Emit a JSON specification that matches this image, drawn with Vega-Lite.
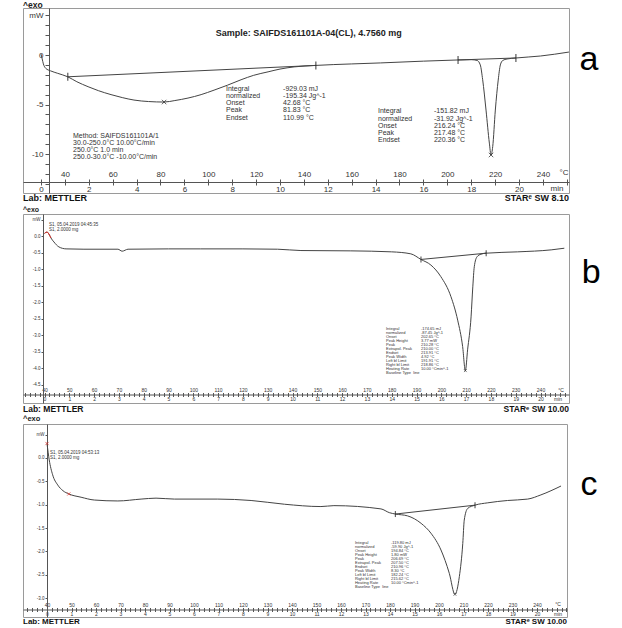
{
"$schema": "https://vega.github.io/schema/vega-lite/v6.json",
"padding": {"left": 22, "top": 0, "right": 0, "bottom": 0},
"bounds": "flush",
"spacing": 21,
"config": {"view": {"stroke": "#9a9a9a", "strokeWidth": 1}, "font": "Liberation Sans", "axis": {"grid": false, "domainColor": "#555", "tickColor": "#555", "labelColor": "#333", "labelFont": "Liberation Sans"}},
"datasets": {
"a_curve": [{"T":30,"mW":0.1},{"T":30.5,"mW":-0.4},{"T":31,"mW":-0.9},{"T":32,"mW":-1.35},{"T":34,"mW":-1.6},{"T":37,"mW":-1.85},{"T":41.2,"mW":-2.2},{"T":45,"mW":-2.7},{"T":49.7,"mW":-3.2},{"T":54,"mW":-3.6},{"T":59.3,"mW":-4.0},{"T":64,"mW":-4.3},{"T":68.9,"mW":-4.55},{"T":75,"mW":-4.7},{"T":81.5,"mW":-4.75},{"T":86,"mW":-4.6},{"T":91.5,"mW":-4.35},{"T":97,"mW":-4.0},{"T":102.4,"mW":-3.55},{"T":108,"mW":-3.05},{"T":113.7,"mW":-2.5},{"T":119,"mW":-2.05},{"T":125,"mW":-1.7},{"T":130,"mW":-1.42},{"T":135.9,"mW":-1.2},{"T":145,"mW":-1.05},{"T":160,"mW":-0.9},{"T":172,"mW":-0.8},{"T":190,"mW":-0.62},{"T":204.5,"mW":-0.5},{"T":210,"mW":-0.47},{"T":212.5,"mW":-0.55},{"T":213.8,"mW":-1.0},{"T":214.8,"mW":-2.5},{"T":216.2,"mW":-5.56},{"T":217.6,"mW":-8.9},{"T":218.3,"mW":-10.1},{"T":219,"mW":-9.26},{"T":220.1,"mW":-5.56},{"T":221.3,"mW":-2.53},{"T":222.2,"mW":-1.0},{"T":223.2,"mW":-0.55},{"T":225,"mW":-0.4},{"T":228.7,"mW":-0.3},{"T":239,"mW":-0.1},{"T":250.9,"mW":0.3}],
"a_base": [{"seg":1,"T":41.2,"mW":-2.2},{"seg":1,"T":145,"mW":-1.05},{"seg":2,"T":204.5,"mW":-0.5},{"seg":2,"T":228.7,"mW":-0.3}],
"a_peaks": [{"T":81.5,"mW":-4.75},{"T":218.3,"mW":-10.1}],
"b_curve": [{"T":40,"mW":0.08},{"T":41,"mW":0.12},{"T":42,"mW":0.03},{"T":42.6,"mW":-0.06},{"T":43.8,"mW":-0.18},{"T":45.8,"mW":-0.33},{"T":48.7,"mW":-0.39},{"T":55.9,"mW":-0.4},{"T":69.6,"mW":-0.4},{"T":71.3,"mW":-0.46},{"T":73.7,"mW":-0.4},{"T":90,"mW":-0.39},{"T":103,"mW":-0.39},{"T":120,"mW":-0.39},{"T":134,"mW":-0.4},{"T":143.4,"mW":-0.44},{"T":163.5,"mW":-0.45},{"T":180,"mW":-0.48},{"T":187.7,"mW":-0.54},{"T":191.8,"mW":-0.71},{"T":195.8,"mW":-0.88},{"T":199.8,"mW":-1.23},{"T":203.9,"mW":-1.84},{"T":206.6,"mW":-2.55},{"T":208.6,"mW":-3.35},{"T":209.7,"mW":-4.08},{"T":210.6,"mW":-3.45},{"T":212,"mW":-2.45},{"T":212.7,"mW":-1.54},{"T":213.3,"mW":-0.93},{"T":214.4,"mW":-0.63},{"T":216,"mW":-0.55},{"T":218.1,"mW":-0.52},{"T":230.8,"mW":-0.48},{"T":244.3,"mW":-0.42},{"T":249.6,"mW":-0.37}],
"b_red": [{"T":40,"mW":0.08},{"T":41,"mW":0.12},{"T":42,"mW":0.03},{"T":42.6,"mW":-0.06}],
"b_base": [{"T":191.8,"mW":-0.71},{"T":218.1,"mW":-0.52}],
"b_peaks": [{"T":209.7,"mW":-4.08}],
"c_curve": [{"T":40,"mW":0.31},{"T":40.9,"mW":-0.04},{"T":42.3,"mW":-0.36},{"T":44.4,"mW":-0.58},{"T":46.5,"mW":-0.7},{"T":48.9,"mW":-0.77},{"T":53.9,"mW":-0.84},{"T":59.3,"mW":-0.9},{"T":68.9,"mW":-0.92},{"T":78.4,"mW":-0.88},{"T":84.5,"mW":-0.86},{"T":92,"mW":-0.88},{"T":109.7,"mW":-0.88},{"T":123.3,"mW":-0.91},{"T":136.9,"mW":-0.99},{"T":151.8,"mW":-1.04},{"T":157.1,"mW":-1.02},{"T":176.3,"mW":-1.09},{"T":179.7,"mW":-1.17},{"T":182.2,"mW":-1.2},{"T":187.2,"mW":-1.24},{"T":192.7,"mW":-1.4},{"T":196.7,"mW":-1.61},{"T":200.8,"mW":-1.97},{"T":204.2,"mW":-2.47},{"T":206.5,"mW":-2.92},{"T":208.3,"mW":-2.54},{"T":209.7,"mW":-1.83},{"T":210.3,"mW":-1.33},{"T":211.7,"mW":-1.08},{"T":214.7,"mW":-1.01},{"T":219.9,"mW":-0.96},{"T":228,"mW":-0.91},{"T":236.2,"mW":-0.88},{"T":241.6,"mW":-0.79},{"T":249.8,"mW":-0.6}],
"c_red": [{"T":40,"mW":0.31},{"T":48.9,"mW":-0.77}],
"c_base": [{"T":182.2,"mW":-1.2},{"T":214.7,"mW":-1.01}],
"c_peaks": [{"T":206.5,"mW":-2.92}],
"one": [{}]
},
"vconcat": [
{
"width": 546, "height": 185,
"resolve": {"axis": {"x": "independent", "y": "independent"}},
"layer": [
{"data": {"name": "a_curve"}, "mark": {"type": "line", "color": "#444", "strokeWidth": 1, "interpolate": "monotone"},
 "encoding": {
  "x": {"field": "T", "type": "quantitative", "scale": {"domain": [22.47, 250.92], "nice": false, "zero": false},
   "axis": {"orient": "bottom", "offset": -11, "title": null, "values": [30,40,50,60,70,80,90,100,110,120,130,140,150,160,170,180,190,200,210,220,230,240,250], "labelExpr": "datum.value % 20 == 0 && datum.value >= 40 && datum.value <= 240 ? '' + datum.value : ''", "tickSize": 3, "labelBaseline": "alphabetic", "labelPadding": -8.5, "labelFontSize": 8, "labelOverlap": false, "labelFlush": false}},
  "y": {"field": "mW", "type": "quantitative", "scale": {"domain": [-13.94, 4.75], "nice": false, "zero": false},
   "axis": {"orient": "left", "offset": -26, "title": null, "values": [-13,-12,-11,-10,-9,-8,-7,-6,-5,-4,-3,-2,-1,0,1,2,3,4], "labelExpr": "datum.value == 4 ? 'mW' : (datum.value % 5 == 0 ? '' + datum.value : '')", "tickSize": 4, "labelPadding": 2, "labelFontSize": 8, "labelOverlap": false, "labelFlush": false}}
 }},
{"data": {"name": "a_base"}, "mark": {"type": "line", "color": "#444", "strokeWidth": 1},
 "encoding": {
  "x": {"field": "T", "type": "quantitative", "axis": {"orient": "bottom", "offset": -11, "title": null, "values": [30,40,50,60,70,80,90,100,110,120,130,140,150,160,170,180,190,200,210,220,230,240,250], "labelExpr": "(datum.value - 30) % 20 == 0 && datum.value <= 230 ? '' + (datum.value - 30) / 10 : ''", "ticks": true, "tickSize": -3, "domain": false, "labelBaseline": "top", "labelPadding": 6, "labelFontSize": 8, "labelOverlap": false, "labelFlush": false}},
  "y": {"field": "mW", "type": "quantitative", "axis": null},
  "detail": {"field": "seg"}
 }},
{"data": {"name": "a_base"}, "mark": {"type": "tick", "orient": "vertical", "size": 8, "thickness": 1.3, "color": "#222"},
 "encoding": {"x": {"field": "T", "type": "quantitative", "axis": null}, "y": {"field": "mW", "type": "quantitative", "axis": null}}},
{"data": {"name": "a_peaks"}, "mark": {"type": "point", "shape": "M-1,-1L1,1M-1,1L1,-1", "filled": false, "size": 20, "strokeWidth": 1, "color": "#222"},
 "encoding": {"x": {"field": "T", "type": "quantitative", "axis": null}, "y": {"field": "mW", "type": "quantitative", "axis": null}}},
{"data": {"name": "one"}, "mark": {"type": "text", "text": "Sample: SAIFDS161101A-04(CL), 4.7560 mg", "fontWeight": "bold", "fontSize": 9, "align": "center", "baseline": "middle", "color": "#222"},
 "encoding": {"x": {"datum": 142, "axis": null}, "y": {"datum": 2.2, "axis": null}}},
{"data": {"name": "one"}, "mark": {"type": "text", "text": ["Integral", "\u00a0\u00a0normalized", "Onset", "Peak", "Endset"], "fontSize": 7, "lineHeight": 7.2, "align": "left", "baseline": "top", "color": "#333"},
 "encoding": {"x": {"datum": 107.4, "axis": null}, "y": {"datum": -3.0, "axis": null}}},
{"data": {"name": "one"}, "mark": {"type": "text", "text": ["-929.03 mJ", "-195.34 Jg^-1", "42.68 °C", "81.83 °C", "110.99 °C"], "fontSize": 7, "lineHeight": 7.2, "align": "left", "baseline": "top", "color": "#333"},
 "encoding": {"x": {"datum": 131.3, "axis": null}, "y": {"datum": -3.0, "axis": null}}},
{"data": {"name": "one"}, "mark": {"type": "text", "text": ["Integral", "\u00a0\u00a0normalized", "Onset", "Peak", "Endset"], "fontSize": 7, "lineHeight": 7.2, "align": "left", "baseline": "top", "color": "#333"},
 "encoding": {"x": {"datum": 171, "axis": null}, "y": {"datum": -5.3, "axis": null}}},
{"data": {"name": "one"}, "mark": {"type": "text", "text": ["-151.82 mJ", "-31.92 Jg^-1", "216.24 °C", "217.48 °C", "220.36 °C"], "fontSize": 7, "lineHeight": 7.2, "align": "left", "baseline": "top", "color": "#333"},
 "encoding": {"x": {"datum": 194.4, "axis": null}, "y": {"datum": -5.3, "axis": null}}},
{"data": {"name": "one"}, "mark": {"type": "text", "text": ["Method: SAIFDS161101A/1", "\u00a0\u00a030.0-250.0°C 10.00°C/min", "\u00a0\u00a0250.0°C 1.0 min", "\u00a0\u00a0250.0-30.0°C -10.00°C/min"], "fontSize": 7, "lineHeight": 7.2, "align": "left", "baseline": "top", "color": "#333"},
 "encoding": {"x": {"datum": 43.4, "axis": null}, "y": {"datum": -7.75, "axis": null}}},
{"data": {"name": "one"}, "mark": {"type": "text", "text": "°C", "fontSize": 8, "align": "center", "baseline": "middle", "color": "#333"},
 "encoding": {"x": {"datum": 248.8, "axis": null}, "y": {"datum": -11.92, "axis": null}}},
{"data": {"name": "one"}, "mark": {"type": "text", "text": "min", "fontSize": 8, "align": "center", "baseline": "middle", "color": "#333"},
 "encoding": {"x": {"datum": 245.9, "axis": null}, "y": {"datum": -13.54, "axis": null}}},
{"data": {"name": "one"}, "mark": {"type": "text", "text": "^exo", "fontSize": 8.5, "fontWeight": "bold", "align": "left", "baseline": "bottom", "dy": 1.5, "color": "#222"},
 "encoding": {"x": {"datum": 22.47, "axis": null}, "y": {"datum": 4.75, "axis": null}}},
{"data": {"name": "one"}, "mark": {"type": "text", "text": "Lab: METTLER", "fontSize": 9, "fontWeight": "bold", "align": "left", "baseline": "top", "dy": 1, "color": "#111"},
 "encoding": {"x": {"datum": 22.47, "axis": null}, "y": {"datum": -13.94, "axis": null}}},
{"data": {"name": "one"}, "mark": {"type": "text", "text": "STARᵉ SW 8.10", "fontSize": 9, "fontWeight": "bold", "align": "right", "baseline": "top", "dy": 1, "color": "#111"},
 "encoding": {"x": {"datum": 250.92, "axis": null}, "y": {"datum": -13.94, "axis": null}}},
{"data": {"name": "one"}, "mark": {"type": "text", "text": "a", "fontSize": 34, "align": "center", "baseline": "alphabetic", "color": "#000"},
 "encoding": {"x": {"datum": 259.3, "axis": null}, "y": {"datum": -1.52, "axis": null}}}
]
},
{
"width": 546, "height": 189,
"resolve": {"axis": {"x": "independent", "y": "independent"}},
"layer": [
{"data": {"name": "b_curve"}, "mark": {"type": "line", "color": "#444", "strokeWidth": 1, "interpolate": "monotone"},
 "encoding": {
  "x": {"field": "T", "type": "quantitative", "scale": {"domain": [31.33, 251.49], "nice": false, "zero": false},
   "axis": {"orient": "bottom", "offset": -8.5, "title": null, "values": [32,34,36,38,40,42,44,46,48,50,52,54,56,58,60,62,64,66,68,70,72,74,76,78,80,82,84,86,88,90,92,94,96,98,100,102,104,106,108,110,112,114,116,118,120,122,124,126,128,130,132,134,136,138,140,142,144,146,148,150,152,154,156,158,160,162,164,166,168,170,172,174,176,178,180,182,184,186,188,190,192,194,196,198,200,202,204,206,208,210,212,214,216,218,220,222,224,226,228,230,232,234,236,238,240,242,244,246,248,250], "labelExpr": "datum.value % 10 == 0 && datum.value >= 40 && datum.value <= 240 ? '' + datum.value : ''", "tickSize": 2, "labelBaseline": "alphabetic", "labelPadding": -4.7, "labelFontSize": 5, "labelOverlap": false, "labelFlush": false}},
  "y": {"field": "mW", "type": "quantitative", "scale": {"domain": [-5.06, 0.667], "nice": false, "zero": false},
   "axis": {"orient": "left", "offset": -20, "title": null, "values": [0.5,0,-0.5,-1,-1.5,-2,-2.5,-3,-3.5,-4,-4.5], "labelExpr": "datum.value == 0.5 ? 'mW' : (datum.value < 0 ? '-' : '') + format(abs(datum.value), '.1f')", "tickSize": 2, "labelPadding": 1, "labelFontSize": 4.5, "labelOverlap": false, "labelFlush": false}}
 }},
{"data": {"name": "b_base"}, "mark": {"type": "line", "color": "#444", "strokeWidth": 1},
 "encoding": {
  "x": {"field": "T", "type": "quantitative", "axis": {"orient": "bottom", "offset": -8.5, "title": null, "values": [32,34,36,38,40,42,44,46,48,50,52,54,56,58,60,62,64,66,68,70,72,74,76,78,80,82,84,86,88,90,92,94,96,98,100,102,104,106,108,110,112,114,116,118,120,122,124,126,128,130,132,134,136,138,140,142,144,146,148,150,152,154,156,158,160,162,164,166,168,170,172,174,176,178,180,182,184,186,188,190,192,194,196,198,200,202,204,206,208,210,212,214,216,218,220,222,224,226,228,230,232,234,236,238,240,242,244,246,248,250], "labelExpr": "datum.value % 10 == 0 && datum.value >= 40 && datum.value <= 240 ? '' + (datum.value - 40) / 10 : ''", "ticks": true, "tickSize": -2, "domain": false, "labelBaseline": "top", "labelPadding": 4.3, "labelFontSize": 5, "labelOverlap": false, "labelFlush": false}},
  "y": {"field": "mW", "type": "quantitative", "axis": null}
 }},
{"data": {"name": "b_red"}, "mark": {"type": "line", "color": "#e0302a", "strokeWidth": 1, "interpolate": "monotone"},
 "encoding": {"x": {"field": "T", "type": "quantitative", "axis": null}, "y": {"field": "mW", "type": "quantitative", "axis": null}}},
{"data": {"name": "b_base"}, "mark": {"type": "tick", "orient": "vertical", "size": 6, "thickness": 1.2, "color": "#222"},
 "encoding": {"x": {"field": "T", "type": "quantitative", "axis": null}, "y": {"field": "mW", "type": "quantitative", "axis": null}}},
{"data": {"name": "b_peaks"}, "mark": {"type": "point", "shape": "M-1,-1L1,1M-1,1L1,-1", "filled": false, "size": 8, "strokeWidth": 0.8, "color": "#222"},
 "encoding": {"x": {"field": "T", "type": "quantitative", "axis": null}, "y": {"field": "mW", "type": "quantitative", "axis": null}}},
{"data": {"name": "one"}, "mark": {"type": "text", "text": ["S1, 05.04.2019 04:45:35", "S1, 2.0000 mg"], "fontSize": 4.5, "lineHeight": 4.8, "align": "left", "baseline": "top", "color": "#333"},
 "encoding": {"x": {"datum": 41.8, "axis": null}, "y": {"datum": 0.42, "axis": null}}},
{"data": {"name": "one"}, "mark": {"type": "text", "text": ["Integral", "\u00a0\u00a0normalized", "Onset", "Peak Height", "Peak", "Extrapol. Peak", "Endset", "Peak Width", "Left bl Limit", "Right bl Limit", "Heating Rate", "Baseline Type\u00a0\u00a0line"], "fontSize": 4, "lineHeight": 4, "align": "left", "baseline": "top", "color": "#333"},
 "encoding": {"x": {"datum": 177.7, "axis": null}, "y": {"datum": -2.76, "axis": null}}},
{"data": {"name": "one"}, "mark": {"type": "text", "text": ["-174.65 mJ", "-87.45 Jg^-1", "202.65 °C", "3.77 mW", "210.28 °C", "210.00 °C", "213.91 °C", "4.92 °C", "191.91 °C", "218.86 °C", "10.00 °Cmin^-1"], "fontSize": 4, "lineHeight": 4, "align": "left", "baseline": "top", "color": "#333"},
 "encoding": {"x": {"datum": 191.8, "axis": null}, "y": {"datum": -2.76, "axis": null}}},
{"data": {"name": "one"}, "mark": {"type": "text", "text": "°C", "fontSize": 5, "align": "center", "baseline": "middle", "color": "#333"},
 "encoding": {"x": {"datum": 248.3, "axis": null}, "y": {"datum": -4.67, "axis": null}}},
{"data": {"name": "one"}, "mark": {"type": "text", "text": "min", "fontSize": 5, "align": "center", "baseline": "middle", "color": "#333"},
 "encoding": {"x": {"datum": 247.1, "axis": null}, "y": {"datum": -4.95, "axis": null}}},
{"data": {"name": "one"}, "mark": {"type": "text", "text": "^exo", "fontSize": 7, "fontWeight": "bold", "align": "left", "baseline": "bottom", "dy": -1, "color": "#222"},
 "encoding": {"x": {"datum": 31.33, "axis": null}, "y": {"datum": 0.667, "axis": null}}},
{"data": {"name": "one"}, "mark": {"type": "text", "text": "Lab: METTLER", "fontSize": 8.5, "fontWeight": "bold", "align": "left", "baseline": "top", "dy": 1.5, "color": "#111"},
 "encoding": {"x": {"datum": 31.33, "axis": null}, "y": {"datum": -5.06, "axis": null}}},
{"data": {"name": "one"}, "mark": {"type": "text", "text": "STARᵉ SW 10.00", "fontSize": 8.5, "fontWeight": "bold", "align": "right", "baseline": "top", "dy": 1.5, "color": "#111"},
 "encoding": {"x": {"datum": 251.49, "axis": null}, "y": {"datum": -5.06, "axis": null}}},
{"data": {"name": "one"}, "mark": {"type": "text", "text": "b", "fontSize": 34, "align": "center", "baseline": "alphabetic", "color": "#000"},
 "encoding": {"x": {"datum": 260.4, "axis": null}, "y": {"datum": -1.42, "axis": null}}}
]
},
{
"width": 544, "height": 193,
"resolve": {"axis": {"x": "independent", "y": "independent"}},
"layer": [
{"data": {"name": "c_curve"}, "mark": {"type": "line", "color": "#444", "strokeWidth": 1, "interpolate": "monotone"},
 "encoding": {
  "x": {"field": "T", "type": "quantitative", "scale": {"domain": [30.2, 252.24], "nice": false, "zero": false},
   "axis": {"orient": "bottom", "offset": -7.5, "title": null, "values": [32,34,36,38,40,42,44,46,48,50,52,54,56,58,60,62,64,66,68,70,72,74,76,78,80,82,84,86,88,90,92,94,96,98,100,102,104,106,108,110,112,114,116,118,120,122,124,126,128,130,132,134,136,138,140,142,144,146,148,150,152,154,156,158,160,162,164,166,168,170,172,174,176,178,180,182,184,186,188,190,192,194,196,198,200,202,204,206,208,210,212,214,216,218,220,222,224,226,228,230,232,234,236,238,240,242,244,246,248,250,252], "labelExpr": "datum.value % 10 == 0 && datum.value >= 40 && datum.value <= 240 ? '' + datum.value : ''", "tickSize": 2, "labelBaseline": "alphabetic", "labelPadding": -5.4, "labelFontSize": 5, "labelOverlap": false, "labelFlush": false}},
  "y": {"field": "mW", "type": "quantitative", "scale": {"domain": [-3.405, 0.728], "nice": false, "zero": false},
   "axis": {"orient": "left", "offset": -24, "title": null, "values": [0.5,0,-0.5,-1,-1.5,-2,-2.5,-3], "labelExpr": "datum.value == 0.5 ? 'mW' : (datum.value < 0 ? '-' : '') + format(abs(datum.value), '.1f')", "tickSize": 2, "labelPadding": 1, "labelFontSize": 4.5, "labelOverlap": false, "labelFlush": false}}
 }},
{"data": {"name": "c_base"}, "mark": {"type": "line", "color": "#444", "strokeWidth": 1},
 "encoding": {
  "x": {"field": "T", "type": "quantitative", "axis": {"orient": "bottom", "offset": -7.5, "title": null, "values": [32,34,36,38,40,42,44,46,48,50,52,54,56,58,60,62,64,66,68,70,72,74,76,78,80,82,84,86,88,90,92,94,96,98,100,102,104,106,108,110,112,114,116,118,120,122,124,126,128,130,132,134,136,138,140,142,144,146,148,150,152,154,156,158,160,162,164,166,168,170,172,174,176,178,180,182,184,186,188,190,192,194,196,198,200,202,204,206,208,210,212,214,216,218,220,222,224,226,228,230,232,234,236,238,240,242,244,246,248,250,252], "labelExpr": "datum.value % 10 == 0 && datum.value >= 40 && datum.value <= 240 ? '' + (datum.value - 40) / 10 : ''", "ticks": true, "tickSize": -2, "domain": false, "labelBaseline": "top", "labelPadding": 3.8, "labelFontSize": 5, "labelOverlap": false, "labelFlush": false}},
  "y": {"field": "mW", "type": "quantitative", "axis": null}
 }},
{"data": {"name": "c_red"}, "mark": {"type": "point", "shape": "M-1,-1L1,1M-1,1L1,-1", "filled": false, "size": 10, "strokeWidth": 1, "color": "#e0302a"},
 "encoding": {"x": {"field": "T", "type": "quantitative", "axis": null}, "y": {"field": "mW", "type": "quantitative", "axis": null}}},
{"data": {"name": "c_base"}, "mark": {"type": "tick", "orient": "vertical", "size": 6, "thickness": 1.2, "color": "#222"},
 "encoding": {"x": {"field": "T", "type": "quantitative", "axis": null}, "y": {"field": "mW", "type": "quantitative", "axis": null}}},
{"data": {"name": "c_peaks"}, "mark": {"type": "point", "shape": "M-1,-1L1,1M-1,1L1,-1", "filled": false, "size": 8, "strokeWidth": 0.8, "color": "#222"},
 "encoding": {"x": {"field": "T", "type": "quantitative", "axis": null}, "y": {"field": "mW", "type": "quantitative", "axis": null}}},
{"data": {"name": "one"}, "mark": {"type": "text", "text": ["S1, 05.04.2019 04:53:13", "S1, 2.0000 mg"], "fontSize": 4.5, "lineHeight": 4.8, "align": "left", "baseline": "top", "color": "#333"},
 "encoding": {"x": {"datum": 41.2, "axis": null}, "y": {"datum": 0.17, "axis": null}}},
{"data": {"name": "one"}, "mark": {"type": "text", "text": ["Integral", "\u00a0\u00a0normalized", "Onset", "Peak Height", "Peak", "Extrapol. Peak", "Endset", "Peak Width", "Left bl Limit", "Right bl Limit", "Heating Rate", "Baseline Type\u00a0\u00a0line"], "fontSize": 4, "lineHeight": 4, "align": "left", "baseline": "top", "color": "#333"},
 "encoding": {"x": {"datum": 165.7, "axis": null}, "y": {"datum": -1.78, "axis": null}}},
{"data": {"name": "one"}, "mark": {"type": "text", "text": ["-119.80 mJ", "-59.90 Jg^-1", "194.84 °C", "1.80 mW", "206.69 °C", "207.50 °C", "210.96 °C", "8.30 °C", "182.24 °C", "215.62 °C", "10.00 °Cmin^-1"], "fontSize": 4, "lineHeight": 4, "align": "left", "baseline": "top", "color": "#333"},
 "encoding": {"x": {"datum": 180.4, "axis": null}, "y": {"datum": -1.78, "axis": null}}},
{"data": {"name": "one"}, "mark": {"type": "text", "text": "°C", "fontSize": 5, "align": "center", "baseline": "middle", "color": "#333"},
 "encoding": {"x": {"datum": 248.6, "axis": null}, "y": {"datum": -3.13, "axis": null}}},
{"data": {"name": "one"}, "mark": {"type": "text", "text": "min", "fontSize": 5, "align": "center", "baseline": "middle", "color": "#333"},
 "encoding": {"x": {"datum": 248.6, "axis": null}, "y": {"datum": -3.34, "axis": null}}},
{"data": {"name": "one"}, "mark": {"type": "text", "text": "^exo", "fontSize": 7.5, "fontWeight": "bold", "align": "left", "baseline": "bottom", "dy": -1, "color": "#222"},
 "encoding": {"x": {"datum": 30.2, "axis": null}, "y": {"datum": 0.728, "axis": null}}},
{"data": {"name": "one"}, "mark": {"type": "text", "text": "Lab: METTLER", "fontSize": 8, "fontWeight": "bold", "align": "left", "baseline": "top", "dy": 0.5, "color": "#111"},
 "encoding": {"x": {"datum": 30.2, "axis": null}, "y": {"datum": -3.405, "axis": null}}},
{"data": {"name": "one"}, "mark": {"type": "text", "text": "STARᵉ SW 10.00", "fontSize": 8, "fontWeight": "bold", "align": "right", "baseline": "top", "dy": 0.5, "color": "#111"},
 "encoding": {"x": {"datum": 252.24, "axis": null}, "y": {"datum": -3.405, "axis": null}}},
{"data": {"name": "one"}, "mark": {"type": "text", "text": "c", "fontSize": 34, "align": "center", "baseline": "alphabetic", "color": "#000"},
 "encoding": {"x": {"datum": 261.2, "axis": null}, "y": {"datum": -0.79, "axis": null}}}
]
}
]
}
